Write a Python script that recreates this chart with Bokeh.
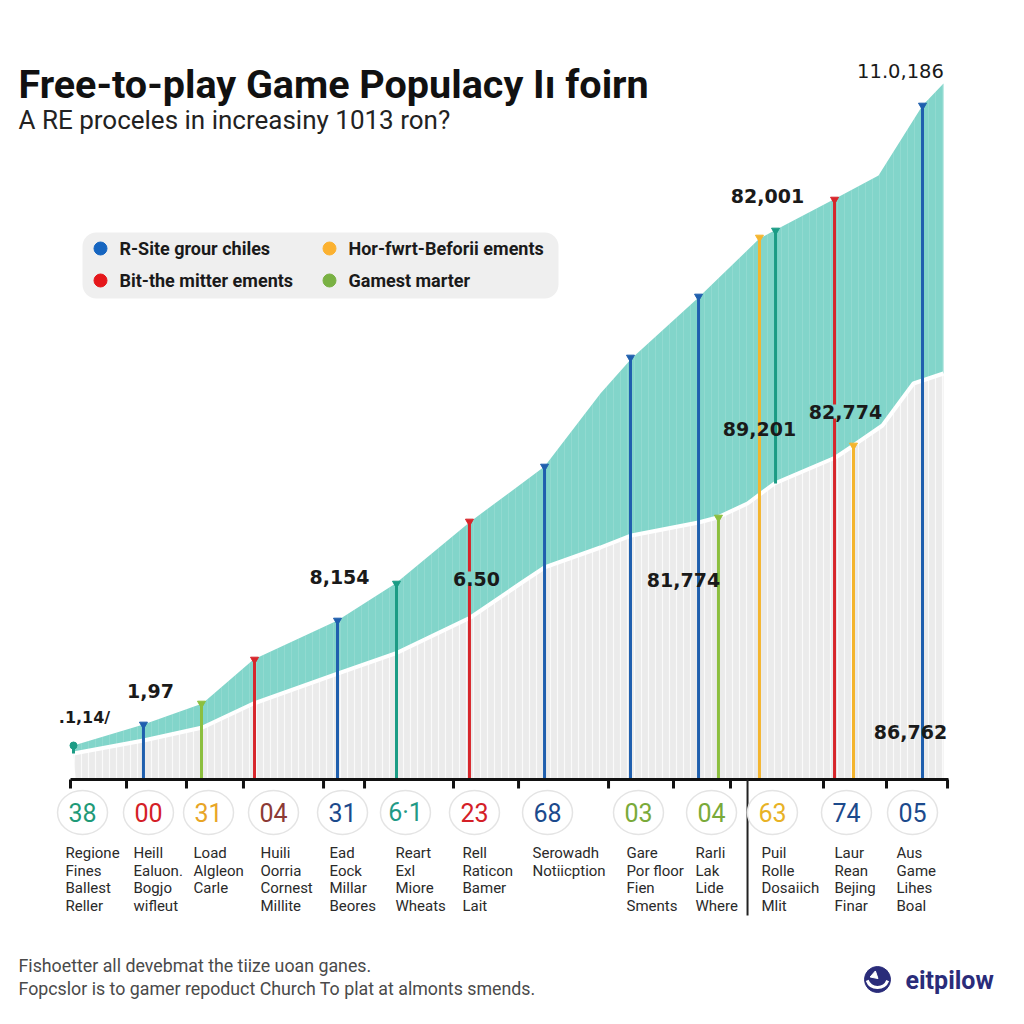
from bokeh.plotting import figure
from bokeh.models import Range1d, BoxAnnotation, Label, ColumnDataSource
from bokeh.embed import file_html
from bokeh.resources import INLINE
from bokeh.core.properties import value

# ---------------- data ----------------
# upper edge of the teal band (x on 0-100 scale, popularity index 0-100)
upper_x = [0.34, 8.31, 15.03, 20.84, 30.41, 37.02, 45.56, 53.99, 60.36, 63.90, 71.53, 78.47, 80.18, 87.13, 92.03, 97.04, 99.43]
upper_v = [4.90, 7.93, 10.95, 17.29, 22.91, 28.24, 37.18, 45.10, 55.62, 60.66, 69.45, 77.95, 79.11, 83.72, 87.03, 97.12, 100.29]
# upper edge of the grey base area
lower_x = [0.34, 8.31, 15.03, 20.84, 30.41, 37.02, 45.56, 51.25, 53.99, 60.36, 63.90, 71.53, 73.69, 77.11, 80.18, 87.13, 89.18, 92.48, 96.01, 99.43]
lower_v = [3.75, 5.62, 7.49, 10.95, 15.27, 18.16, 23.34, 28.24, 30.55, 33.43, 35.16, 37.03, 37.75, 39.77, 42.65, 46.40, 48.13, 51.01, 57.06, 58.50]

# stems
stem_x = [0.34, 8.31, 14.92, 20.96, 30.41, 37.13, 45.44, 53.99, 63.78, 71.53, 73.80, 78.47, 80.30, 87.02, 89.18, 97.04]
stem_top = [4.90, 7.93, 10.95, 17.29, 22.91, 28.24, 37.18, 45.10, 60.81, 69.60, 37.75, 78.10, 79.11, 83.57, 48.13, 97.12]
stem_base = [3.75, 0, 0, 0, 0, 0, 0, 0, 0, 0, 0, 0, 42.65, 0, 0, 0]
stem_series = ["teal", "blue", "green", "red", "blue", "teal", "red", "blue", "blue", "blue",
               "green", "yellow", "teal", "red", "yellow", "blue"]

series_names = {"blue": "R-Site grour chiles", "yellow": "Hor-fwrt-Beforii ements",
                "red": "Bit-the mitter ements", "green": "Gamest marter"}

value_labels = [".1,14/", "1,97", "8,154", "6.50", "81,774", "89,201", "82,774", "82,001", "11.0,186", "86,762"]

tick_x = [0, 6.38, 13.21, 19.70, 28.82, 33.49, 43.62, 51.03, 61.28, 68.68, 75.17, 85.76, 92.94, 99.89]
divider_x = 77.11

codes = ["38", "00", "31", "04", "31", "6·1", "23", "68", "03", "04", "63", "74", "05"]
cat_x = [1.37, 8.88, 15.72, 23.12, 30.98, 38.15, 46.01, 54.33, 64.69, 73.01, 79.95, 88.38, 95.90]
descriptions = [
    ["Regione", "Fines", "Ballest", "Reller"],
    ["Heill", "Ealuon.", "Bogjo", "wifleut"],
    ["Load", "Algleon", "Carle"],
    ["Huili", "Oorria", "Cornest", "Millite"],
    ["Ead", "Eock", "Millar", "Beores"],
    ["Reart", "Exl", "Miore", "Wheats"],
    ["Rell", "Raticon", "Bamer", "Lait"],
    ["Serowadh", "Notiicption"],
    ["Gare", "Por floor", "Fien", "Sments"],
    ["Rarli", "Lak", "Lide", "Where"],
    ["Puil", "Rolle", "Dosaiich", "Mlit"],
    ["Laur", "Rean", "Bejing", "Finar"],
    ["Aus", "Game", "Lihes", "Boal"],
]

# ---------------- styles / layout ----------------
stem_colors = {"blue": "#1f5fae", "red": "#d7262b", "green": "#8cbf3f",
               "yellow": "#f4b52f", "teal": "#1b9c85"}
legend_colors = {"blue": "#1565c0", "yellow": "#fbb130", "red": "#e5171b", "green": "#79b143"}
code_colors = ["#1f9a78", "#d42027", "#e8a526", "#8c3b36", "#1c4a8c", "#1f9a86", "#d42027",
               "#1c4a8c", "#7aaa3a", "#7aaa3a", "#e8b226", "#1c4a8c", "#1c4a8c"]
desc_dx = [-17, -15, -15, -13, -13, -10, -12, -15, -12, -16, -11, -12, -16]

W, H = 1000, 1000
OFF = 0  # page offset of the figure's top-left corner in the photo


def X(px):
    return (px - 70) / 8.78


def Y(py):
    return (779 - py) / 6.94


p = figure(width=W, height=H, x_range=Range1d(X(OFF), X(OFF + W)), y_range=Range1d(Y(OFF + H), Y(OFF)),
           x_axis_type=None, y_axis_type=None, toolbar_location=None, output_backend="svg",
           min_border=0, outline_line_color=None, background_fill_color="white",
           border_fill_color="white")

# grey base area
gx = lower_x + [lower_x[-1], lower_x[0] + 0.25]
gy = lower_v + [0, 0]
p.patch(gx, gy, fill_color="#ebebeb", line_color=None,
        hatch_pattern="vertical_line", hatch_color="white", hatch_alpha=0.75,
        hatch_scale=7, hatch_weight=1.2)

# teal band
tx = upper_x + lower_x[::-1]
ty = upper_v + lower_v[::-1]
p.patch(tx, ty, fill_color="#82d5ca", line_color=None,
        hatch_pattern="vertical_line", hatch_color="white", hatch_alpha=0.12,
        hatch_scale=7, hatch_weight=1)
p.line(lower_x, lower_v, line_color="white", line_width=4)

# stems
src = ColumnDataSource(dict(x=stem_x, top=stem_top, base=stem_base,
                            color=[stem_colors[s] for s in stem_series]))
p.segment(x0="x", y0="base", x1="x", y1="top", line_color="color", line_width=3, source=src)
cap_src = ColumnDataSource(dict(x=stem_x[1:], top=stem_top[1:],
                                color=[stem_colors[s] for s in stem_series[1:]]))
p.scatter(x="x", y="top", marker="inverted_triangle", size=8, color="color", source=cap_src)
p.scatter(x=stem_x[:1], y=stem_top[:1], marker="circle", size=7, color=stem_colors["teal"])

# axis line, ticks, divider
p.segment(x0=[tick_x[0]], y0=[0], x1=[100], y1=[0], line_color="#111111", line_width=3)
p.segment(x0=tick_x, y0=[0] * len(tick_x), x1=tick_x, y1=[Y(788)] * len(tick_x),
          line_color="#111111", line_width=3)
p.segment(x0=[divider_x], y0=[0], x1=[divider_x], y1=[Y(915)], line_color="#222222", line_width=2)

# badges
by = Y(812)
bsrc = ColumnDataSource(dict(x=cat_x, y=[by] * len(cat_x), code=codes, color=code_colors))
p.ellipse(x="x", y="y", width=50, height=44, width_units="screen", height_units="screen",
          fill_color="white", line_color="#e4e4e4", line_width=1.5, source=bsrc)
p.text(x="x", y="y", text="code", text_color="color", text_align="center", text_baseline="middle",
       text_font=value("Roboto"), text_font_size="25px", source=bsrc)

# descriptions
line_py = [852, 870, 887, 905]
dx, dy, dt, dox = [], [], [], []
for i, lines in enumerate(descriptions):
    for j, t in enumerate(lines):
        dx.append(cat_x[i])
        dy.append(Y(line_py[j]))
        dt.append(t)
        dox.append(desc_dx[i])
dsrc = ColumnDataSource(dict(x=dx, y=dy, t=dt, ox=dox))
p.text(x="x", y="y", text="t", x_offset="ox", text_align="left", text_baseline="middle",
       text_font=value("Roboto"), text_font_size="15px", text_color="#2a2a2a", source=dsrc)

# value labels
lab_pos = [(84, 717, "16px", "bold", None), (150, 690, "19px", "bold", None),
           (339, 576, "19px", "bold", None), (476, 578, "19px", "bold", "#82d5ca"),
           (683, 579, "19px", "bold", None), (759, 428, "19px", "bold", None),
           (845, 411, "19px", "bold", "#82d5ca"), (767, 195, "19px", "bold", None),
           (900, 70, "19.5px", "normal", None), (910, 731, "19px", "bold", None)]
for t, (lx, ly, fs, fw, bg) in zip(value_labels, lab_pos):
    kw = {}
    if bg:
        kw = dict(background_fill_color=bg, background_fill_alpha=1.0)
    p.add_layout(Label(x=X(lx), y=Y(ly), text=t, text_align="center", text_baseline="middle",
                       text_font="DejaVu Sans", text_font_style=fw, text_font_size=fs,
                       text_color="#1a1a1a", **kw))

# legend
p.add_layout(BoxAnnotation(left=X(82), right=X(558), bottom=Y(298), top=Y(232),
                           fill_color="#efefef", fill_alpha=1, line_color=None,
                           border_radius=14, level="underlay"))
leg_order = ["blue", "yellow", "red", "green"]
leg_px = [(100, 248), (329, 248), (100, 280), (329, 280)]
lsrc = ColumnDataSource(dict(x=[X(a) for a, b in leg_px], y=[Y(b) for a, b in leg_px],
                             tx=[X(a + 19) for a, b in leg_px],
                             color=[legend_colors[k] for k in leg_order],
                             name=[series_names[k] for k in leg_order]))
p.scatter(x="x", y="y", size=13, color="color", source=lsrc)
p.text(x="tx", y="y", text="name", text_align="left", text_baseline="middle",
       text_font=value("Roboto"), text_font_style="bold", text_font_size="18px",
       text_color="#1a1a1a", source=lsrc)

# title, subtitle
p.add_layout(Label(x=X(18), y=Y(84), text="Free-to-play Game Populacy I\u0131 foirn",
                   text_font="Roboto", text_font_style="bold", text_font_size="39.5px",
                   text_color="#111111", text_baseline="alphabetic"))
p.add_layout(Label(x=X(18), y=Y(119), text="A RE proceles in increasiny 1013 ron?",
                   text_font="Roboto", text_font_size="26px",
                   text_color="#222222", text_baseline="alphabetic"))

# footer
p.add_layout(Label(x=X(18), y=Y(965), text="Fishoetter all devebmat the tiize uoan ganes.",
                   text_font="Roboto", text_font_size="17.8px", text_color="#4a4a4a",
                   text_baseline="alphabetic"))
p.add_layout(Label(x=X(18), y=Y(988), text="Fopcslor is to gamer repoduct Church To plat at almonts smends.",
                   text_font="Roboto", text_font_size="17.8px", text_color="#4a4a4a",
                   text_baseline="alphabetic"))

# logo
navy = "#2a2c7a"
p.scatter(x=[X(877)], y=[Y(979)], size=26, color=navy)
p.arc(x=[X(877)], y=[Y(976)], radius=11, radius_units="screen", start_angle=3.5, end_angle=5.9,
      line_color="white", line_width=3)
p.scatter(x=[X(874)], y=[Y(975)], marker="triangle", size=8, angle=1.9, color="white")
p.add_layout(Label(x=X(905), y=Y(980), text="eitpilow", text_font="Roboto", text_font_style="bold",
                   text_font_size="25px", text_color=navy, text_baseline="middle"))

open("out.html", "w").write(file_html(p, INLINE))
